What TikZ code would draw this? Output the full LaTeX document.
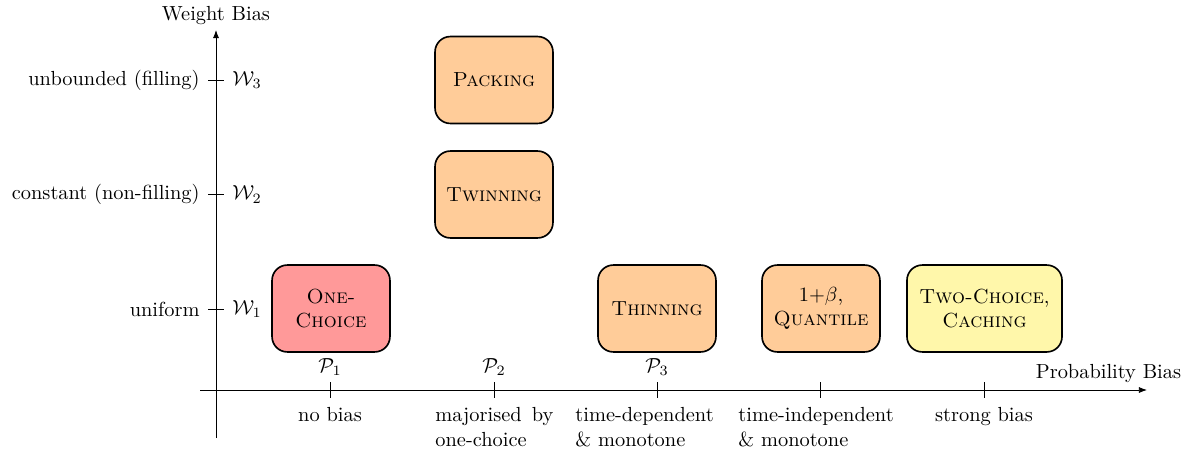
\documentclass[tikz,border=0pt]{standalone}
\usetikzlibrary{arrows.meta}
\definecolor{boxred}{RGB}{255,153,153}
\definecolor{boxorange}{RGB}{255,204,153}
\definecolor{boxyellow}{RGB}{255,247,170}
\begin{document}
\begin{tikzpicture}[x=0.4902pt,y=-0.4902pt,
  axisline/.style={line width=0.4pt,-{Latex[length=4pt,width=3pt]}},
  tickline/.style={line width=0.4pt},
  procbox/.style={draw, line width=0.8pt, rounded corners=7.5pt,
    minimum width=57.8pt, minimum height=42.6pt, align=center, inner sep=2pt},
  axlabel/.style={inner sep=0pt},
  biaslabel/.style={inner sep=0pt, anchor=north west, align=left}]
\useasboundingbox (0,0) rectangle (1193,450);

% axes
\coordinate (ybot) at (216,438);
\coordinate (ytop) at (216,30);
\coordinate (xleft) at (200,390);
\coordinate (xright) at (1147,390);
\draw[axisline] (ybot) -- (ytop);
\draw[axisline] (xleft) -- (xright);

\node[axlabel, anchor=base] (wlab) at (216,20) {Weight Bias};
\node[axlabel, anchor=base] (plab) at (1108.5,378.5) {Probability Bias};

% y ticks
\foreach \n/\y/\name/\sym in {3/80/unbounded (filling)/\mathcal{W}_3,
                              2/194.5/constant (non-filling)/\mathcal{W}_2,
                              1/309/uniform/\mathcal{W}_1}{
  \coordinate (w\n) at (216,\y);
  \draw[tickline] ([xshift=-3.7pt]w\n) -- ([xshift=3.7pt]w\n);
  \node[axlabel, anchor=east] (wname\n) at (200,\y) {\name};
  \node[axlabel, anchor=west] (wsym\n) at (232,\y) {$\sym$};
}

% x ticks
\foreach \n/\x in {1/330,2/494,3/657,4/820,5/984}{
  \coordinate (p\n) at (\x,390);
  \draw[tickline] ([yshift=3.7pt]p\n) -- ([yshift=-3.7pt]p\n);
}
\node[anchor=south] (psym1) at (330,382.5) {$\mathcal{P}_1$};
\node[anchor=south] (psym2) at (494,382.5) {$\mathcal{P}_2$};
\node[anchor=south] (psym3) at (657,382.5) {$\mathcal{P}_3$};

\node[axlabel, anchor=north] (b1) at (330,407.3) {no bias};
\node[biaslabel] (b2) at (435,407.3) {\makebox[57.8pt][s]{majorised by}\\one-choice};
\node[biaslabel] (b3) at (575,407.3) {time-dependent\\\& monotone};
\node[biaslabel] (b4) at (738,407.3) {time-independent\\\& monotone};
\node[axlabel, anchor=north] (b5) at (984,407.3) {strong bias};

% boxes
\node[procbox, fill=boxred] (one) at (331,308.5) {\textsc{One-}\\\textsc{Choice}};
\node[procbox, fill=boxorange] (pack) at (494,80) {\textsc{Packing}};
\node[procbox, fill=boxorange] (twin) at (494,194.5) {\textsc{Twinning}};
\node[procbox, fill=boxorange] (thin) at (657,308.5) {\textsc{Thinning}};
\node[procbox, fill=boxorange] (quant) at (821,308.5) {$1{+}\beta$,\\\textsc{Quantile}};
\node[procbox, fill=boxyellow, minimum width=76pt] (two) at (984.5,308.5) {\textsc{Two-Choice},\\\textsc{Caching}};
\end{tikzpicture}
\end{document}
